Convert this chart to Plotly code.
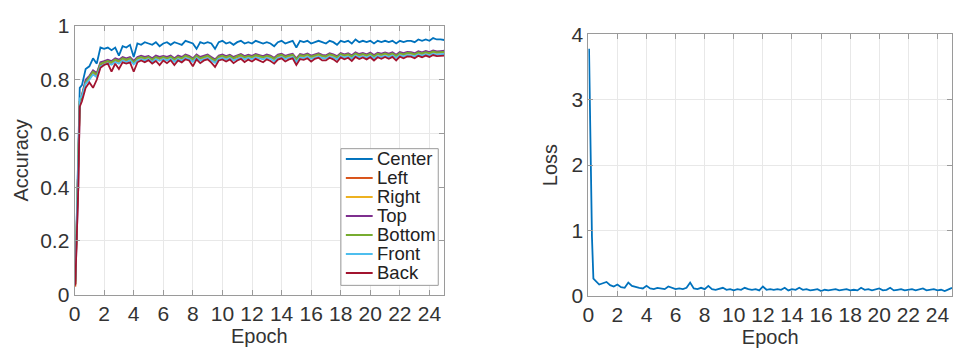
import plotly.graph_objects as go
from plotly.subplots import make_subplots

# Sampling grid (epochs); dense start, then every quarter epoch
epochs = [0.05, 0.25, 0.35, 0.5, 0.75] + [i / 4 for i in range(4, 101)]

center = [0.05, 0.53, 0.77, 0.78, 0.84,
          0.85, 0.88, 0.86, 0.92, 0.915, 0.92, 0.91, 0.92,
          0.89, 0.925, 0.92, 0.93, 0.885, 0.935, 0.93, 0.94,
          0.935, 0.93, 0.94, 0.925, 0.935, 0.94, 0.93, 0.94,
          0.935, 0.93, 0.945, 0.94, 0.935, 0.915, 0.94, 0.935,
          0.94, 0.935, 0.915, 0.94, 0.945, 0.935, 0.94, 0.93,
          0.94, 0.945, 0.935, 0.94, 0.935, 0.945, 0.94, 0.935,
          0.94, 0.935, 0.925, 0.94, 0.945, 0.935, 0.94, 0.945,
          0.92, 0.945, 0.94, 0.945, 0.935, 0.94, 0.945, 0.94,
          0.935, 0.945, 0.94, 0.93, 0.945, 0.94, 0.945, 0.935,
          0.95, 0.94, 0.945, 0.94, 0.945, 0.935, 0.945, 0.94,
          0.945, 0.94, 0.945, 0.935, 0.945, 0.94, 0.945, 0.945,
          0.94, 0.95, 0.945, 0.95, 0.945, 0.955, 0.95, 0.95,
          0.948]

left = [0.03, 0.48, 0.72, 0.735, 0.79,
        0.805, 0.825, 0.815, 0.855, 0.862, 0.868, 0.86, 0.872,
        0.866, 0.878, 0.872, 0.878, 0.862, 0.878, 0.882, 0.877,
        0.883, 0.872, 0.882, 0.877, 0.883, 0.878, 0.884, 0.874,
        0.883, 0.878, 0.887, 0.883, 0.873, 0.887, 0.878, 0.884,
        0.887, 0.878, 0.869, 0.884, 0.887, 0.881, 0.887, 0.878,
        0.885, 0.889, 0.882, 0.887, 0.883, 0.889, 0.886, 0.882,
        0.887, 0.884, 0.876, 0.887, 0.891, 0.883, 0.888, 0.891,
        0.874, 0.889, 0.887, 0.892, 0.884, 0.889, 0.893, 0.887,
        0.885, 0.893, 0.889, 0.882, 0.894, 0.889, 0.893, 0.885,
        0.896, 0.89, 0.894, 0.889, 0.895, 0.886, 0.895, 0.891,
        0.896, 0.891, 0.896, 0.887, 0.897, 0.893, 0.898, 0.897,
        0.893, 0.9, 0.896, 0.901, 0.897, 0.903, 0.9, 0.901,
        0.902]

right = [0.04, 0.44, 0.72, 0.745, 0.795,
         0.81, 0.83, 0.82, 0.862, 0.866, 0.871, 0.864, 0.876,
         0.869, 0.879, 0.874, 0.881, 0.864, 0.879, 0.884, 0.879,
         0.884, 0.874, 0.884, 0.879, 0.884, 0.879, 0.885, 0.875,
         0.884, 0.879, 0.889, 0.884, 0.875, 0.889, 0.879, 0.885,
         0.889, 0.879, 0.871, 0.885, 0.889, 0.883, 0.888, 0.879,
         0.887, 0.891, 0.883, 0.888, 0.884, 0.891, 0.887, 0.883,
         0.889, 0.885, 0.877, 0.889, 0.892, 0.884, 0.889, 0.892,
         0.875, 0.891, 0.888, 0.893, 0.885, 0.89, 0.894, 0.888,
         0.886, 0.894, 0.89, 0.883, 0.895, 0.89, 0.894, 0.886,
         0.897, 0.891, 0.895, 0.89, 0.896, 0.887, 0.896, 0.892,
         0.897, 0.892, 0.897, 0.888, 0.898, 0.894, 0.899, 0.898,
         0.894, 0.901, 0.897, 0.902, 0.898, 0.904, 0.901, 0.902,
         0.903]

top = [0.04, 0.40, 0.71, 0.74, 0.80,
       0.815, 0.835, 0.825, 0.865, 0.87, 0.875, 0.87, 0.88,
       0.875, 0.885, 0.88, 0.885, 0.87, 0.885, 0.89, 0.885,
       0.889, 0.88, 0.89, 0.885, 0.889, 0.885, 0.89, 0.88,
       0.89, 0.885, 0.894, 0.889, 0.88, 0.894, 0.885, 0.89,
       0.894, 0.885, 0.876, 0.89, 0.894, 0.888, 0.893, 0.885,
       0.892, 0.896, 0.888, 0.893, 0.889, 0.896, 0.892, 0.888,
       0.894, 0.89, 0.882, 0.894, 0.897, 0.889, 0.894, 0.897,
       0.88, 0.896, 0.893, 0.898, 0.89, 0.895, 0.899, 0.893,
       0.891, 0.899, 0.895, 0.888, 0.9, 0.895, 0.899, 0.891,
       0.902, 0.896, 0.9, 0.895, 0.901, 0.892, 0.901, 0.897,
       0.902, 0.897, 0.902, 0.893, 0.903, 0.899, 0.904, 0.903,
       0.899, 0.906, 0.902, 0.907, 0.903, 0.909, 0.906, 0.907,
       0.908]

bottom = [0.04, 0.46, 0.72, 0.74, 0.79,
          0.81, 0.83, 0.82, 0.86, 0.865, 0.87, 0.865, 0.875,
          0.87, 0.88, 0.875, 0.88, 0.865, 0.88, 0.885, 0.88,
          0.885, 0.875, 0.885, 0.88, 0.885, 0.88, 0.886, 0.876,
          0.885, 0.88, 0.89, 0.885, 0.876, 0.89, 0.88, 0.886,
          0.89, 0.88, 0.872, 0.886, 0.89, 0.884, 0.889, 0.88,
          0.888, 0.892, 0.884, 0.889, 0.885, 0.892, 0.888, 0.884,
          0.89, 0.886, 0.878, 0.89, 0.893, 0.885, 0.89, 0.893,
          0.876, 0.892, 0.889, 0.894, 0.886, 0.891, 0.895, 0.889,
          0.887, 0.895, 0.891, 0.884, 0.896, 0.891, 0.895, 0.887,
          0.898, 0.892, 0.896, 0.891, 0.897, 0.888, 0.897, 0.893,
          0.898, 0.893, 0.898, 0.889, 0.899, 0.895, 0.9, 0.899,
          0.895, 0.902, 0.898, 0.903, 0.899, 0.905, 0.902, 0.903,
          0.904]

front = [0.055, 0.52, 0.73, 0.74, 0.785,
         0.80, 0.82, 0.81, 0.85, 0.857, 0.862, 0.856, 0.866,
         0.86, 0.872, 0.866, 0.872, 0.857, 0.872, 0.877, 0.872,
         0.877, 0.866, 0.877, 0.871, 0.877, 0.872, 0.878, 0.867,
         0.877, 0.872, 0.881, 0.877, 0.867, 0.881, 0.872, 0.878,
         0.881, 0.872, 0.863, 0.878, 0.881, 0.875, 0.881, 0.872,
         0.879, 0.883, 0.876, 0.881, 0.877, 0.883, 0.88, 0.876,
         0.881, 0.878, 0.869, 0.881, 0.885, 0.877, 0.882, 0.885,
         0.867, 0.883, 0.881, 0.886, 0.878, 0.883, 0.887, 0.881,
         0.879, 0.887, 0.883, 0.876, 0.888, 0.883, 0.887, 0.879,
         0.89, 0.884, 0.888, 0.883, 0.889, 0.88, 0.889, 0.885,
         0.89, 0.885, 0.89, 0.881, 0.891, 0.887, 0.892, 0.891,
         0.887, 0.894, 0.89, 0.895, 0.891, 0.897, 0.894, 0.895,
         0.896]

back = [0.035, 0.40, 0.70, 0.72, 0.77,
        0.79, 0.77, 0.80, 0.845, 0.855, 0.86, 0.83, 0.86,
        0.84, 0.865, 0.86, 0.865, 0.83, 0.865, 0.872, 0.865,
        0.873, 0.86, 0.87, 0.855, 0.872, 0.862, 0.873, 0.855,
        0.872, 0.865, 0.876, 0.872, 0.85, 0.876, 0.862, 0.872,
        0.876, 0.864, 0.848, 0.872, 0.876, 0.868, 0.876, 0.862,
        0.872, 0.878, 0.866, 0.875, 0.868, 0.878, 0.872, 0.865,
        0.876, 0.87, 0.86, 0.875, 0.88, 0.868, 0.876, 0.88,
        0.855, 0.877, 0.874, 0.88, 0.868, 0.878, 0.882, 0.872,
        0.872, 0.882, 0.876, 0.866, 0.883, 0.876, 0.882, 0.87,
        0.885, 0.877, 0.883, 0.876, 0.884, 0.872, 0.884, 0.878,
        0.885, 0.878, 0.885, 0.872, 0.886, 0.88, 0.887, 0.886,
        0.88, 0.889, 0.884, 0.89, 0.885, 0.892, 0.888, 0.889,
        0.89]

loss = [3.78, 0.9, 0.26, 0.23, 0.17,
        0.19, 0.21, 0.16, 0.14, 0.17, 0.13, 0.12, 0.2,
        0.15, 0.13, 0.12, 0.11, 0.15, 0.11, 0.1, 0.12,
        0.11, 0.1, 0.14, 0.12, 0.1, 0.11, 0.1, 0.12,
        0.2, 0.11, 0.1, 0.12, 0.1, 0.15, 0.1, 0.09,
        0.1, 0.12, 0.09, 0.1, 0.08, 0.1, 0.09, 0.12,
        0.1, 0.09, 0.1, 0.08, 0.14, 0.09, 0.1, 0.09,
        0.1, 0.09, 0.12, 0.08, 0.1, 0.09, 0.12, 0.09,
        0.1, 0.08, 0.09, 0.1, 0.07, 0.09, 0.08, 0.09,
        0.1, 0.08, 0.09, 0.1, 0.08, 0.09, 0.08, 0.12,
        0.09, 0.1, 0.08, 0.09, 0.11, 0.08, 0.09, 0.12,
        0.08, 0.09, 0.1, 0.08, 0.09, 0.1, 0.08, 0.09,
        0.11, 0.08, 0.09, 0.1, 0.08, 0.09, 0.07, 0.1,
        0.12]

series_names = ["Center", "Left", "Right", "Top", "Bottom", "Front", "Back"]
series_values = [center, left, right, top, bottom, front, back]
series_colors = ["#0072BD", "#D95319", "#EDB120", "#7E2F8E",
                 "#77AC30", "#4DBEEE", "#A2142F"]

x_ticks = list(range(0, 25, 2))
acc_ticks = [0, 0.2, 0.4, 0.6, 0.8, 1]
acc_tick_text = ["0", "0.2", "0.4", "0.6", "0.8", "1"]
loss_ticks = [0, 1, 2, 3, 4]

W, H = 953, 360
FONT = "Liberation Sans, Arial, sans-serif"
AX_GRAY = "#9a9a9a"
TXT = "#333333"

fig = make_subplots(rows=1, cols=2)

for name, vals, col in zip(series_names, series_values, series_colors):
    fig.add_trace(go.Scatter(x=epochs, y=vals, name=name, mode="lines",
                             showlegend=False,
                             line=dict(color=col, width=1.8)), row=1, col=1)

fig.add_trace(go.Scatter(x=epochs, y=loss, mode="lines", showlegend=False,
                         line=dict(color="#0072BD", width=1.8)), row=1, col=2)

axis_common = dict(showline=True, linecolor=AX_GRAY, linewidth=1, mirror="ticks",
                   ticks="inside", ticklen=5, tickcolor=AX_GRAY,
                   showgrid=True, gridcolor="#e8e8e8", gridwidth=1,
                   zeroline=False, tickfont=dict(size=21, color=TXT),
                   title_font=dict(size=20, color=TXT))

fig.update_xaxes(axis_common)
fig.update_yaxes(axis_common)

# Boxed legend in the lower-right corner of the accuracy panel
def px(x):
    return x / W

def py(y):
    return 1 - y / H

box_l, box_r, box_t, box_b = 337, 435, 146, 292
shapes = [dict(type="rect", xref="paper", yref="paper",
               x0=px(box_l), x1=px(box_r), y0=py(box_b), y1=py(box_t),
               line=dict(color=AX_GRAY, width=1), fillcolor="white", layer="above")]
annotations = []
row_y0, row_step = 157, 20.3
for i, (name, col) in enumerate(zip(series_names, series_colors)):
    yy = row_y0 + i * row_step
    shapes.append(dict(type="line", xref="paper", yref="paper",
                       x0=px(342), x1=px(369), y0=py(yy), y1=py(yy),
                       line=dict(color=col, width=2), layer="above"))
    annotations.append(dict(text=name, xref="paper", yref="paper",
                            x=px(371), y=py(yy), xanchor="left", yanchor="middle",
                            showarrow=False,
                            font=dict(size=18.5, color="#222222", family=FONT)))

fig.update_layout(
    width=W, height=H, margin=dict(l=0, r=0, t=0, b=0),
    paper_bgcolor="white", plot_bgcolor="white",
    font=dict(family=FONT, color=TXT),
    showlegend=False,
    shapes=shapes, annotations=annotations,
    xaxis=dict(domain=[69 / W, 441 / W], range=[0, 25], tickvals=x_ticks,
               title=dict(text="Epoch", standoff=3)),
    yaxis=dict(domain=[1 - 302 / H, 1 - 15 / H], range=[0, 1],
               tickvals=acc_ticks, ticktext=acc_tick_text,
               title=dict(text="Accuracy", standoff=6)),
    xaxis2=dict(domain=[586 / W, 952 / W], range=[0, 25], tickvals=x_ticks,
                title=dict(text="Epoch", standoff=3)),
    yaxis2=dict(domain=[1 - 303 / H, 1 - 24 / H], range=[0, 4],
                tickvals=loss_ticks, title=dict(text="Loss", standoff=8)),
)

fig.write_html("out.html")
